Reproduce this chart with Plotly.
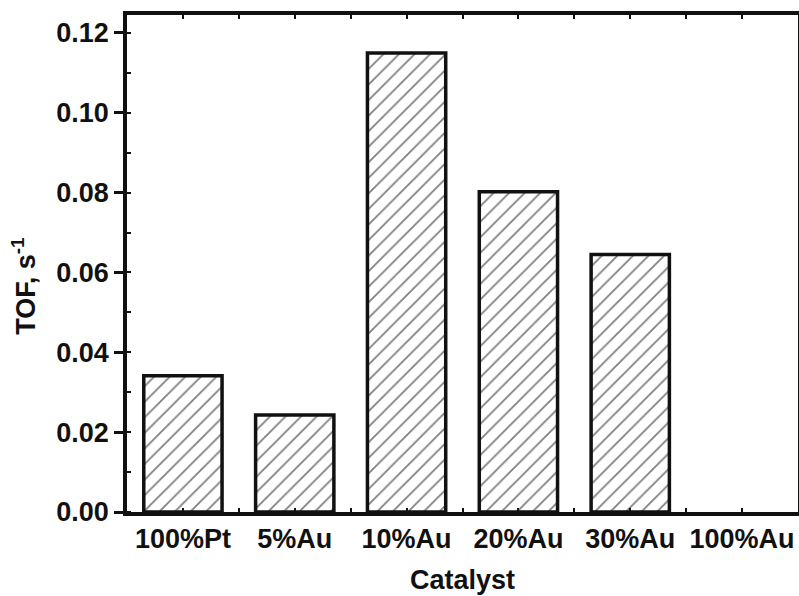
import plotly.graph_objects as go

categories = ["100%Pt", "5%Au", "10%Au", "20%Au", "30%Au", "100%Au"]
tof_values = [0.0341, 0.0243, 0.115, 0.0802, 0.0645, 0.0]
y_ticks = [0.00, 0.02, 0.04, 0.06, 0.08, 0.10, 0.12]
y_tick_labels = ["0.00", "0.02", "0.04", "0.06", "0.08", "0.10", "0.12"]
x_title = "Catalyst"
y_title = "TOF, s<sup>-1</sup>"

font_family = "Liberation Sans, Arial, sans-serif"
outline_widths = [3.5 if v > 0 else 0 for v in tof_values]

fig = go.Figure()
fig.add_trace(go.Bar(
    x=list(range(len(categories))),
    y=tof_values,
    width=0.7,
    marker=dict(
        color="white",
        line=dict(color="#111111", width=outline_widths),
        pattern=dict(shape="/", size=11, solidity=0.16, fgcolor="#000000", bgcolor="white"),
    ),
))

fig.add_annotation(
    text=y_title, textangle=-90,
    xref="paper", yref="paper", x=0, y=0.453,
    xanchor="center", yanchor="middle", xshift=-103,
    showarrow=False,
    font=dict(size=27, family=font_family, weight="bold", color="#111111"),
)

fig.update_layout(
    width=799, height=596,
    margin=dict(l=127, r=1, t=15, b=84, autoexpand=False),
    paper_bgcolor="white", plot_bgcolor="white",
    showlegend=False,
    font=dict(family=font_family, color="#111111"),
    xaxis=dict(
        range=[-0.5, 5.5], automargin=False,
        tickmode="array", tickvals=list(range(len(categories))), ticktext=categories,
        tickfont=dict(size=27, family=font_family, weight="bold"),
        ticks="inside", ticklen=0, tickwidth=2,
        minor=dict(dtick=0.5, tick0=-0.5, ticks="inside", ticklen=4, tickwidth=1.5, tickcolor="#111111"),
        showline=True, linecolor="#111111", linewidth=3.5, mirror="allticks",
        showgrid=False, zeroline=False,
        title=dict(text=x_title, font=dict(size=27, weight="bold"), standoff=18),
    ),
    yaxis=dict(
        range=[0, 0.1245], automargin=False,
        tickmode="array", tickvals=y_ticks, ticktext=y_tick_labels,
        tickfont=dict(size=27, family=font_family, weight="bold"),
        ticks="outside", ticklen=9, tickwidth=3, tickcolor="#111111",
        minor=dict(dtick=0.01, tick0=0, ticks="inside", ticklen=4, tickwidth=1.5, tickcolor="#111111"),
        showline=True, linecolor="#111111", linewidth=3.5, mirror=True,
        showgrid=False, zeroline=False,
    ),
)

fig.write_html(
    "out.html",
    config={"displayModeBar": False},
    post_script="document.body.style.margin='0';document.body.style.overflow='hidden';",
)
